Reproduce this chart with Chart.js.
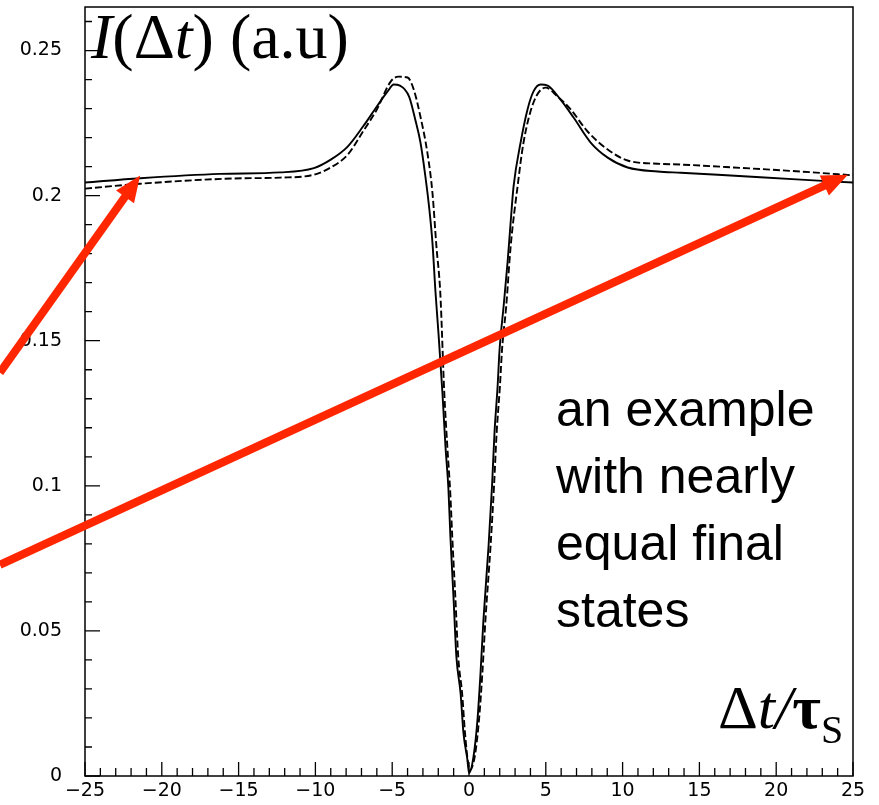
<!DOCTYPE html>
<html>
<head>
<meta charset="utf-8">
<script src="https://cdn.jsdelivr.net/npm/chart.js@4.4.1/dist/chart.umd.min.js"></script>
<style>
  html, body { margin: 0; padding: 0; background: #fff; }
  #wrap { width: 879px; height: 805px; }
</style>
</head>
<body>
<div id="wrap"><canvas id="chart" width="879" height="805"></canvas></div>
<script>
// values
const SOLID_X = [-25, -21.4, -16.2, -12.3, -10.1, -9.0, -7.9, -6.9, -6.0, -5.3, -4.9, -4.5, -3.9, -3.5, -3.16,
  -2.84, -2.58, -2.38, -2.18, -1.99, -1.73, -1.53, -1.34, -1.21, -1.01, -0.82, -0.55, -0.36, -0.10, 0,
  0.29, 0.55, 0.75, 0.94, 1.27, 1.50, 1.66, 1.86, 1.99, 2.25, 2.51, 2.70, 2.90, 3.36, 3.81, 4.20, 4.66,
  5.12, 5.96, 6.81, 7.92, 9.03, 10.33, 12.29, 13.79, 16.2, 21.6, 25];
const SOLID_Y = [0.2045, 0.2060, 0.2075, 0.2080, 0.2095, 0.2124, 0.2169, 0.2238, 0.2307, 0.2359, 0.2383, 0.2379, 0.2341, 0.2262, 0.2183,
  0.2066, 0.1952, 0.1838, 0.1666, 0.1528, 0.1321, 0.1134, 0.0990, 0.0824, 0.0617, 0.0410, 0.0286, 0.0148, 0.0055, 0.001,
  0.0066, 0.0193, 0.0355, 0.0538, 0.0790, 0.1000, 0.1183, 0.1341, 0.1469, 0.1617, 0.1770, 0.1900, 0.2031, 0.2183, 0.2297, 0.2359, 0.2383,
  0.2379, 0.2331, 0.2269, 0.2183, 0.2131, 0.2097, 0.2083, 0.2079, 0.2072, 0.2055, 0.2045];

const DASHED_X = [-25, -21.4, -15.4, -12.3, -10.1, -9.0, -7.9, -6.9, -6.0, -5.1, -4.6, -4.0, -3.6, -3.16,
  -2.71, -2.38, -2.12, -1.87, -1.61, -1.41, -1.22, -1.09, -0.89, -0.70, -0.45, -0.26, -0.05, 0.05,
  0.37, 0.65, 0.87, 1.07, 1.40, 1.63, 1.80, 2.01, 2.15, 2.42, 2.71, 3.16, 3.55, 4.20, 4.99, 5.77,
  6.62, 7.72, 9.03, 10.33, 12.29, 13.79, 17.24, 21.6, 25];
const DASHED_Y = [0.2024, 0.2041, 0.2059, 0.2062, 0.2072, 0.2097, 0.2141, 0.2221, 0.2297, 0.2393, 0.2410, 0.2407, 0.2366, 0.2272,
  0.2148, 0.2010, 0.1824, 0.1666, 0.1321, 0.1134, 0.0976, 0.0824, 0.0617, 0.0410, 0.0286, 0.0148, 0.004, 0.002,
  0.0066, 0.0193, 0.0355, 0.0538, 0.0790, 0.1000, 0.1183, 0.1341, 0.1469, 0.1617, 0.1824, 0.2031, 0.2183, 0.2321, 0.2372, 0.2341,
  0.2297, 0.2221, 0.2159, 0.2121, 0.2110, 0.2107, 0.2097, 0.2083, 0.2070];

const X_TICKS = [-25, -20, -15, -10, -5, 0, 5, 10, 15, 20, 25];
const Y_TICKS = [0, 0.05, 0.1, 0.15, 0.2, 0.25];

// red annotation arrows, tail -> tip in data units
const ARROW_TAILS = [[-30.54, 0.139], [-30.54, 0.0728]];
const ARROW_TIPS = [[-21.41, 0.2069], [24.67, 0.2072]];

const NOTE_LINES = ['an example', 'with nearly', 'equal final', 'states'];

const toPoints = (xs, ys) => xs.map((x, i) => ({ x: x, y: ys[i] }));

// draw a row of text pieces with different fonts
function drawRuns(ctx, x, y, runs) {
  runs.forEach(r => {
    ctx.font = r.font;
    ctx.fillText(r.t, x, y + (r.dy || 0));
    x += ctx.measureText(r.t).width;
  });
}

const decorations = {
  id: 'decorations',
  afterDatasetsDraw(chart) {
    const { ctx, chartArea: a, scales: { x, y } } = chart;
    ctx.save();

    // frame
    ctx.strokeStyle = '#000';
    ctx.lineWidth = 1.5;
    ctx.strokeRect(a.left, a.top, a.right - a.left, a.bottom - a.top);

    // inward ticks, ROOT style
    ctx.lineWidth = 1.3;
    ctx.beginPath();
    for (let v = -25; v <= 25; v++) {
      const px = x.getPixelForValue(v);
      const len = v % 5 === 0 ? 14 : 8;
      ctx.moveTo(px, a.bottom);
      ctx.lineTo(px, a.bottom - len);
    }
    for (let i = 0; i <= 26; i++) {
      const py = y.getPixelForValue(i / 100);
      const len = i % 5 === 0 ? 15 : 7;
      ctx.moveTo(a.left, py);
      ctx.lineTo(a.left + len, py);
    }
    ctx.stroke();

    // axis titles
    ctx.fillStyle = '#000';
    ctx.textAlign = 'left';
    ctx.textBaseline = 'alphabetic';
    const serif = '"Liberation Serif", "Times New Roman", serif';
    drawRuns(ctx, 91, 58, [
      { t: 'I', font: 'italic 64px ' + serif },
      { t: '(Δ', font: '64px ' + serif },
      { t: 't', font: 'italic 64px ' + serif },
      { t: ') (a.u)', font: '64px ' + serif }
    ]);
    drawRuns(ctx, 718, 728, [
      { t: 'Δ', font: '62px ' + serif },
      { t: 't/', font: 'italic 62px ' + serif },
      { t: 'τ', font: 'bold 62px ' + serif },
      { t: 'S', font: '40px ' + serif, dy: 15 }
    ]);

    // note
    ctx.font = '50px "Liberation Sans", Arial, sans-serif';
    NOTE_LINES.forEach((line, i) => ctx.fillText(line, 556, 426 + i * 67));

    // arrows
    ctx.strokeStyle = '#ff2600';
    ctx.fillStyle = '#ff2600';
    ctx.lineWidth = 8;
    ARROW_TIPS.forEach((tip, i) => {
      const x0 = x.getPixelForValue(ARROW_TAILS[i][0]), y0 = y.getPixelForValue(ARROW_TAILS[i][1]);
      const x1 = x.getPixelForValue(tip[0]), y1 = y.getPixelForValue(tip[1]);
      const len = Math.hypot(x1 - x0, y1 - y0);
      const ux = (x1 - x0) / len, uy = (y1 - y0) / len;
      const headLen = 26, headHalf = 11;
      const bx = x1 - ux * headLen, by = y1 - uy * headLen;
      ctx.beginPath();
      ctx.moveTo(x0, y0);
      ctx.lineTo(bx + ux * 2, by + uy * 2);
      ctx.stroke();
      ctx.beginPath();
      ctx.moveTo(x1, y1);
      ctx.lineTo(bx - uy * headHalf, by + ux * headHalf);
      ctx.lineTo(bx + uy * headHalf, by - ux * headHalf);
      ctx.closePath();
      ctx.fill();
    });
    ctx.restore();
  }
};

const tickFont = { family: '"DejaVu Sans", sans-serif', size: 19 };

new Chart(document.getElementById('chart'), {
  type: 'line',
  data: {
    datasets: [
      {
        label: 'solid',
        data: toPoints(SOLID_X, SOLID_Y),
        borderColor: '#000',
        borderWidth: 1.9,
        pointRadius: 0,
        cubicInterpolationMode: 'monotone'
      },
      {
        label: 'dashed',
        data: toPoints(DASHED_X, DASHED_Y),
        borderColor: '#000',
        borderWidth: 1.9,
        borderDash: [7, 3],
        pointRadius: 0,
        cubicInterpolationMode: 'monotone'
      }
    ]
  },
  options: {
    responsive: false,
    animation: false,
    layout: { padding: { top: 7, right: 26, left: 0, bottom: 0 } },
    plugins: { legend: { display: false }, tooltip: { enabled: false } },
    scales: {
      x: {
        type: 'linear',
        min: -25,
        max: 25,
        grid: { display: false, drawTicks: false },
        border: { display: false },
        afterBuildTicks: s => { s.ticks = X_TICKS.map(v => ({ value: v })); },
        afterFit: s => { s.height = 29; s.paddingLeft = 0; s.paddingRight = 0; },
        ticks: {
          padding: 4,
          color: '#000',
          font: tickFont,
          maxRotation: 0,
          callback: v => String(v).replace('-', '\u2212')
        }
      },
      y: {
        type: 'linear',
        min: 0,
        max: 0.265,
        grid: { display: false, drawTicks: false },
        border: { display: false },
        afterBuildTicks: s => { s.ticks = Y_TICKS.map(v => ({ value: v })); },
        afterFit: s => { s.width = 85; s.paddingTop = 0; s.paddingBottom = 0; },
        ticks: {
          padding: 23,
          color: '#000',
          font: tickFont,
          callback: v => String(+v.toFixed(2))
        }
      }
    }
  },
  plugins: [decorations]
});
</script>
</body>
</html>
